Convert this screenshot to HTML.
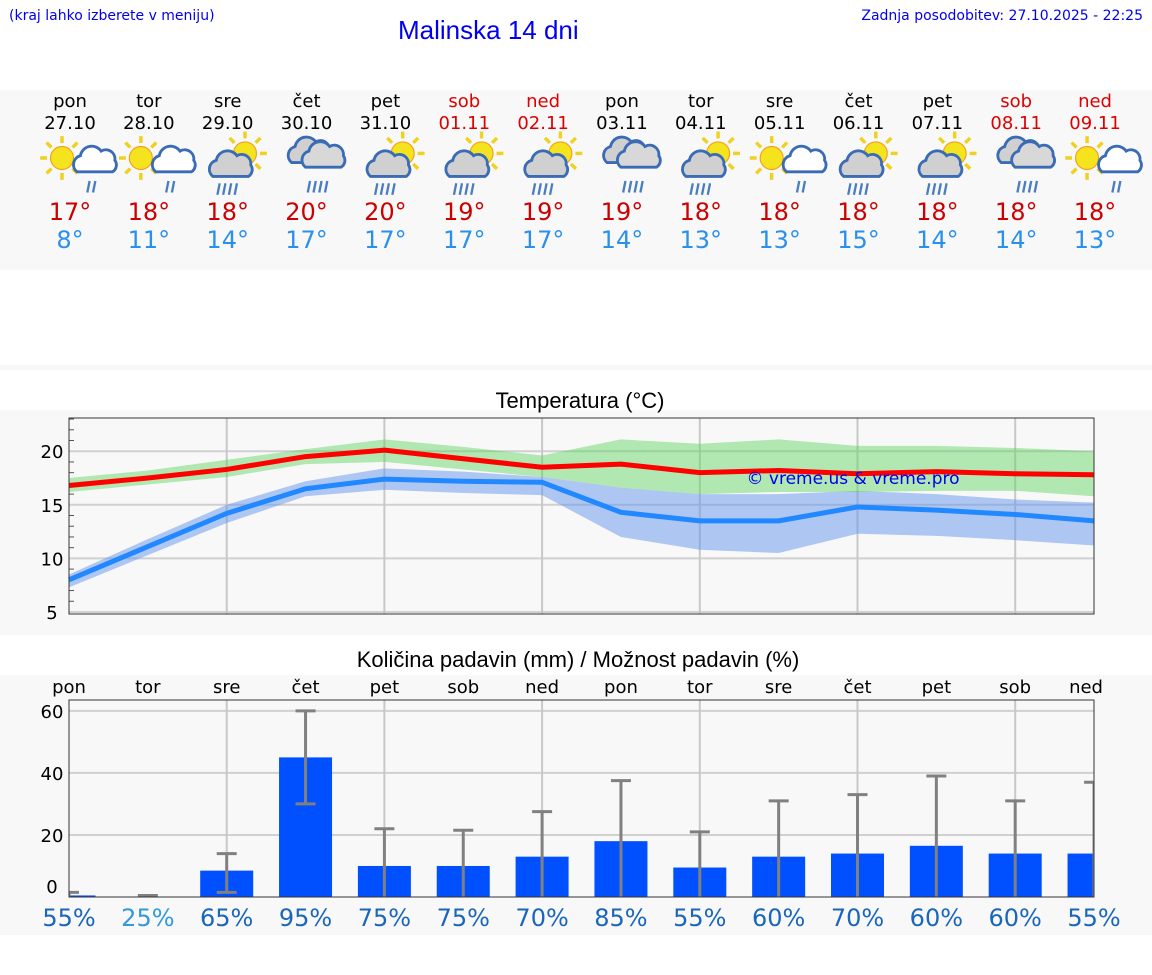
<!DOCTYPE html>
<html><head><meta charset="utf-8">
<style>
body{margin:0;background:#fff;width:1152px;height:975px;position:relative;overflow:hidden;font-family:"DejaVu Sans","Liberation Sans",sans-serif;}
.abs{position:absolute;}
</style></head>
<body>
<div class="abs" style="left:9px;top:8px;font-size:14px;color:#0000ee">(kraj lahko izberete v meniju)</div>
<div class="abs" style="left:398px;top:15px;font-size:24px;color:#0000ee;font-family:'Liberation Sans',sans-serif;font-size:26px">Malinska 14 dni</div>
<div class="abs" style="right:9px;top:8px;font-size:14px;color:#0000ee">Zadnja posodobitev: 27.10.2025 - 22:25</div>
<div class="abs" style="left:0;top:90px;width:1152px;height:180px;background:#f8f8f8"></div>
<div class="abs" style="left:0;top:365px;width:1152px;height:5px;background:#f8f8f8"></div>
<div class="abs" style="left:0;top:410px;width:1152px;height:225px;background:#f8f8f8"></div>
<div class="abs" style="left:0;top:675px;width:1152px;height:260px;background:#f8f8f8"></div>
<div id="fc"></div>
<svg id="ch" class="abs" style="left:0;top:0" width="1152" height="975"></svg>
<script>
const days=["pon","tor","sre","čet","pet","sob","ned","pon","tor","sre","čet","pet","sob","ned"];
const dates=["27.10","28.10","29.10","30.10","31.10","01.11","02.11","03.11","04.11","05.11","06.11","07.11","08.11","09.11"];
const hiT=[17,18,18,20,20,19,19,19,18,18,18,18,18,18];
const loT=[8,11,14,17,17,17,17,14,13,13,15,14,14,13];
const icons=["A","A","B","C","B","B","B","C","B","A","B","B","C","A"];
const maxLine=[16.8,17.5,18.3,19.5,20.1,19.3,18.5,18.8,18.0,18.2,17.9,18.1,17.9,17.8];
const maxHi=[17.5,18.2,19.2,20.2,21.1,20.4,19.6,21.1,20.7,21.1,20.5,20.5,20.3,20.0];
const maxLo=[16.2,16.9,17.6,18.8,19.0,18.3,17.6,16.6,16.0,16.2,16.2,16.3,16.3,15.8];
const minLine=[8.0,11.1,14.2,16.5,17.4,17.2,17.1,14.3,13.5,13.5,14.8,14.5,14.1,13.5];
const minHi=[8.5,11.8,15.0,17.2,18.4,18.1,17.6,16.6,16.0,16.0,16.3,16.0,15.5,15.2];
const minLo=[7.3,10.3,13.3,15.8,16.4,16.1,15.9,12.0,10.8,10.5,12.3,12.1,11.7,11.2];
const tempTicks=[5,10,15,20];
const precip=[0.5,0,8.5,45,10,10,13,18,9.5,13,14,16.5,14,14];
const errHi=[1.5,0.5,14,60,22,21.5,27.5,37.5,21,31,33,39,31,37];
const errLo=[0,0,1.5,30,0,0,0,0,0,0,0,0,0,0];
const prob=[55,25,65,95,75,75,70,85,55,60,70,60,60,55];
const precTicks=[0,20,40,60];

const NS="http://www.w3.org/2000/svg";
const svg=document.getElementById('ch');
function el(t,a,p){const e=document.createElementNS(NS,t);for(const k in a)e.setAttribute(k,a[k]);(p||svg).appendChild(e);return e;}
const X=i=>69+i*78.85;
function txt(x,y,s,size,col,name,fam){const e=el('text',{x:x,y:y,'font-size':size,fill:col,'text-anchor':'middle','font-family':fam||'DejaVu Sans, Liberation Sans, sans-serif'});e.textContent=s;return e;}
function icon(cx,type,i){
  const g=el('g',{transform:`translate(${cx-31},135) scale(1.15)`});
  
  
  function sun(x,y){for(let k=0;k<8;k++){const a=k*Math.PI/4;el('line',{x1:x+Math.cos(a)*13,y1:y+Math.sin(a)*13,x2:x+Math.cos(a)*19,y2:y+Math.sin(a)*19,stroke:'#f0d020','stroke-width':3},g);}el('circle',{cx:x,cy:y,r:10,fill:'#f5e31d',stroke:'#f0a020','stroke-width':1},g);}
  function cloud(x,y,fill){el('path',{d:`M${x} ${y+14} a8 8 0 0 1 3 -14 a10 10 0 0 1 18 -4 a8 8 0 0 1 12 8 a7 7 0 0 1 -2 10 z`,fill:fill,stroke:'#3a6bb5','stroke-width':2.5},g);}
  function rain(x,y,n){for(let k=0;k<n;k++)el('line',{x1:x+k*5+2,y1:y,x2:x+k*5,y2:y+10,stroke:'#4a7cc0','stroke-width':2},g);}
  if(type==="A"){sun(20,20);cloud(33,18,'#fff');rain(42,40,2);}
  else if(type==="B"){sun(42,16);cloud(14,22,'#d0d0d0');rain(18,42,4);}
  else{cloud(14,10,'#d0d0d0');cloud(26,14,'#d8d8d8');rain(28,40,4);}
}
for(let i=0;i<14;i++){
  const x=X(i)+1;const we=(i==5||i==6||i==12||i==13);
  txt(x,107,days[i],18,we?'#dd0000':'#000','day-name');
  txt(x,129,dates[i],18,we?'#dd0000':'#000','date');
  icon(x,icons[i],i);
  txt(x,220,hiT[i]+'°',24,'#cc0000','max-temp');
  txt(x,248,loT[i]+'°',24,'#2a90ee','min-temp');
}
// temp chart
const tL=69,tR=1094,tT=418,tB=614,tmin=4.81,tmax=23.1;
const TY=v=>tB-(v-tmin)/(tmax-tmin)*(tB-tT);
txt(580,408,'Temperatura (°C)',22,'#000','temp-chart-title','Liberation Sans, sans-serif');
for(const v of tempTicks){el('line',{x1:tL,x2:tR,y1:TY(v),y2:TY(v),stroke:'#d0d0d0','stroke-width':2});txt(52,TY(v)+7,String(v),18,'#000','y-tick-label');}
for(let v=6;v<=23;v++){if(v%5)el('line',{x1:tL,x2:tL+5,y1:TY(v),y2:TY(v),stroke:'#555'});}
for(let i=2;i<14;i+=2)el('line',{x1:X(i),x2:X(i),y1:tT,y2:tB,stroke:'#c8c8c8','stroke-width':2});
function band(hi,lo,col,name){let d='';hi.forEach((v,i)=>d+=(i?'L':'M')+X(i)+' '+TY(v));for(let i=lo.length-1;i>=0;i--)d+='L'+X(i)+' '+TY(lo[i]);const p=el('path',{d:d+'Z',fill:col});}
function line(vals,col,name){const p=el('polyline',{points:vals.map((v,i)=>X(i)+','+TY(v)).join(' '),fill:'none',stroke:col,'stroke-width':5,'stroke-linejoin':'round'});}
band(minHi,minLo,'rgba(100,150,235,0.5)','min-range-band');
band(maxHi,maxLo,'rgba(90,210,90,0.45)','max-range-band');
line(maxLine,'#ff0000','max-temp-line');
line(minLine,'#2288ff','min-temp-line');
el('rect',{x:tL,y:tT,width:tR-tL,height:tB-tT,fill:'none',stroke:'#333','stroke-width':1});
txt(853,484,'© vreme.us & vreme.pro',17,'#0000ee','watermark');
// precip chart
const pL=69,pR=1094,pT=700,pB=897,pmax=63.5;
const PY=v=>pB-v/pmax*(pB-pT);
txt(578,667,'Količina padavin (mm) / Možnost padavin (%)',22,'#000','precip-chart-title','Liberation Sans, sans-serif');
for(let i=0;i<14;i++)txt(X(i)+(i==13?-8:0),693,days[i],18,'#000','precip-day-label');
for(const v of precTicks){if(v)el('line',{x1:pL,x2:pR,y1:PY(v),y2:PY(v),stroke:'#d0d0d0','stroke-width':2});txt(52,PY(v)+(v?7:-4),String(v),18,'#000','y-tick-label');}
for(let i=2;i<14;i+=2)el('line',{x1:X(i),x2:X(i),y1:pT,y2:pB,stroke:'#c8c8c8','stroke-width':2});
const cg=el('g',{});
const clip=el('clipPath',{id:'pc'});el('rect',{x:pL,y:pT-1,width:pR-pL,height:pB-pT+1},clip);
cg.setAttribute('clip-path','url(#pc)');
for(let i=0;i<14;i++){
  const b=el('rect',{x:X(i)-26.5,y:PY(precip[i]),width:53,height:pB-PY(precip[i]),fill:'#0050ff'},cg);
  
  
  el('line',{x1:X(i),x2:X(i),y1:PY(errHi[i]),y2:Math.min(pB,PY(errLo[i])),stroke:'#808080','stroke-width':3},cg);
  el('line',{x1:X(i)-10,x2:X(i)+10,y1:PY(errHi[i]),y2:PY(errHi[i]),stroke:'#808080','stroke-width':3},cg);
  if(errLo[i]>0)el('line',{x1:X(i)-10,x2:X(i)+10,y1:PY(errLo[i]),y2:PY(errLo[i]),stroke:'#808080','stroke-width':3},cg);
  txt(X(i),926,prob[i]+'%',24,prob[i]<40?'#3399dd':'#1a66bb','precip-probability');
}
el('rect',{x:pL,y:pT,width:pR-pL,height:pB-pT,fill:'none',stroke:'#333','stroke-width':1});
</script>
</body></html>
